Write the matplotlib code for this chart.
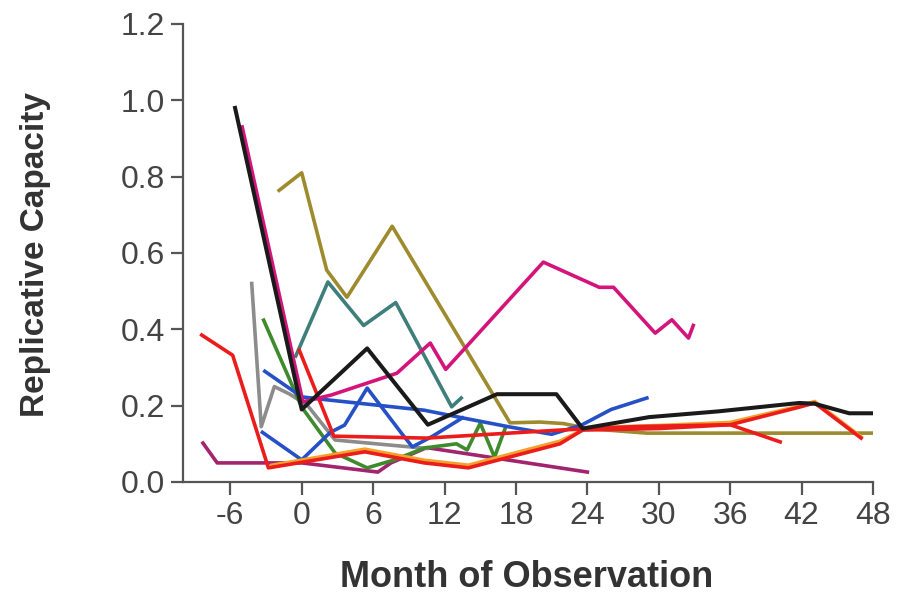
import matplotlib
matplotlib.use("Agg")
import matplotlib.pyplot as plt

# month of observation / replicative capacity, one pair of lists per patient
black_x = [-5.6, 0.0, 5.5, 10.6, 16.4, 21.4, 23.6, 29.2, 35.0, 41.8, 43.1, 46.0, 48.0]
black_y = [0.98, 0.19, 0.35, 0.15, 0.23, 0.23, 0.14, 0.17, 0.185, 0.207, 0.205, 0.18, 0.18]

magenta_x = [-5.0, 0.1, 2.5, 8.0, 10.8, 12.1, 20.3, 25.0, 26.2, 29.7, 31.1, 32.5, 32.9]
magenta_y = [0.93, 0.21, 0.228, 0.285, 0.364, 0.295, 0.576, 0.51, 0.51, 0.39, 0.425, 0.377, 0.41]

olive_x = [-1.9, 0.0, 2.1, 3.8, 7.6, 17.5, 20.0, 22.0, 24.0, 29.0, 48.0]
olive_y = [0.764, 0.81, 0.555, 0.484, 0.67, 0.155, 0.157, 0.153, 0.14, 0.128, 0.128]

teal_x = [-0.5, 2.2, 5.2, 7.9, 12.6, 13.4]
teal_y = [0.33, 0.524, 0.41, 0.47, 0.197, 0.22]

gray_x = [-4.2, -3.4, -2.3, -1.0, 0.5, 2.8, 8.0, 10.5]
gray_y = [0.52, 0.145, 0.25, 0.23, 0.2, 0.11, 0.095, 0.088]

green_x = [-3.2, 0.0, 2.8, 5.5, 7.8, 10.3, 13.0, 13.9, 15.0, 16.2, 17.1]
green_y = [0.424, 0.196, 0.076, 0.037, 0.058, 0.089, 0.10, 0.084, 0.154, 0.065, 0.141]

blue1_x = [-3.1, 0.0, 2.2, 10.3, 13.5, 17.5, 21.0, 23.5, 26.0, 29.0]
blue1_y = [0.29, 0.223, 0.215, 0.188, 0.168, 0.144, 0.125, 0.149, 0.19, 0.22]

blue2_x = [-3.3, 0.0, 2.4, 3.6, 5.5, 8.5, 9.3, 11.0, 13.5]
blue2_y = [0.13, 0.058, 0.13, 0.149, 0.246, 0.123, 0.092, 0.12, 0.168]

orange_x = [-2.5, 5.3, 10.3, 14.0, 21.7, 24.0, 30.0, 36.0, 42.0, 43.1, 47.0]
orange_y = [0.044, 0.086, 0.057, 0.044, 0.107, 0.142, 0.148, 0.156, 0.2, 0.211, 0.118]

red1_x = [-8.4, -5.8, -2.8, 5.3, 10.3, 14.0, 21.7, 23.6, 30.0, 36.0, 40.2]
red1_y = [0.385, 0.332, 0.037, 0.079, 0.05, 0.037, 0.10, 0.136, 0.14, 0.15, 0.105]

red2_x = [-0.2, 2.7, 10.5, 21.7, 28.0, 36.0, 41.8, 43.1, 47.0]
red2_y = [0.345, 0.12, 0.115, 0.136, 0.145, 0.15, 0.196, 0.207, 0.115]

purple_x = [-8.3, -7.1, 0.0, 6.4, 7.5, 10.5, 24.0]
purple_y = [0.102, 0.05, 0.05, 0.026, 0.05, 0.09, 0.026]

x_ticks = [-6, 0, 6, 12, 18, 24, 30, 36, 42, 48]
y_ticks = [0.0, 0.2, 0.4, 0.6, 0.8, 1.0, 1.2]

plt.rcParams['font.family'] = ['Liberation Sans', 'DejaVu Sans']
plt.rcParams['axes.unicode_minus'] = False

fig = plt.figure(figsize=(9, 5.98), dpi=100)
ax = fig.add_axes([0.203, 0.194, 0.767, 0.766])

lw = 2.6
ax.plot(purple_x, purple_y, color='#a3246e', lw=lw)
ax.plot(gray_x, gray_y, color='#8c8c8c', lw=lw)
ax.plot(green_x, green_y, color='#3f8a2c', lw=lw)
ax.plot(teal_x, teal_y, color='#3f7f7b', lw=lw)
ax.plot(olive_x, olive_y, color='#9d8b2e', lw=lw)
ax.plot(blue1_x, blue1_y, color='#2650c6', lw=lw)
ax.plot(blue2_x, blue2_y, color='#2650c6', lw=lw)
ax.plot(orange_x, orange_y, color='#f2a22a', lw=lw)
ax.plot(red1_x, red1_y, color='#ec1c1c', lw=lw)
ax.plot(red2_x, red2_y, color='#ec1c1c', lw=lw)
ax.plot(magenta_x, magenta_y, color='#d3157b', lw=lw)
ax.plot(black_x, black_y, color='#1a1a1a', lw=2.9)

ax.set_xlim(-10, 48)
ax.set_ylim(0, 1.2)
ax.set_xticks(x_ticks)
ax.set_yticks(y_ticks)
ax.set_yticklabels(['%.1f' % v for v in y_ticks])

for s in ['top', 'right']:
    ax.spines[s].set_visible(False)
for s in ['left', 'bottom']:
    ax.spines[s].set_color('#555555')
    ax.spines[s].set_linewidth(1.6)

ax.tick_params(axis='both', direction='out', length=9, width=1.6, color='#555555',
               labelcolor='#444444', labelsize=23)
ax.tick_params(axis='x', pad=5)
ax.tick_params(axis='y', pad=4)

fig.text(0.039, 0.574, 'Replicative Capacity', rotation=90, ha='center', va='center',
         fontsize=24, fontweight='bold', color='#333333')
fig.text(0.585, 0.035, 'Month of Observation', ha='center', va='center',
         fontsize=26, fontweight='bold', color='#333333')

fig.savefig('out.png', dpi=100)
